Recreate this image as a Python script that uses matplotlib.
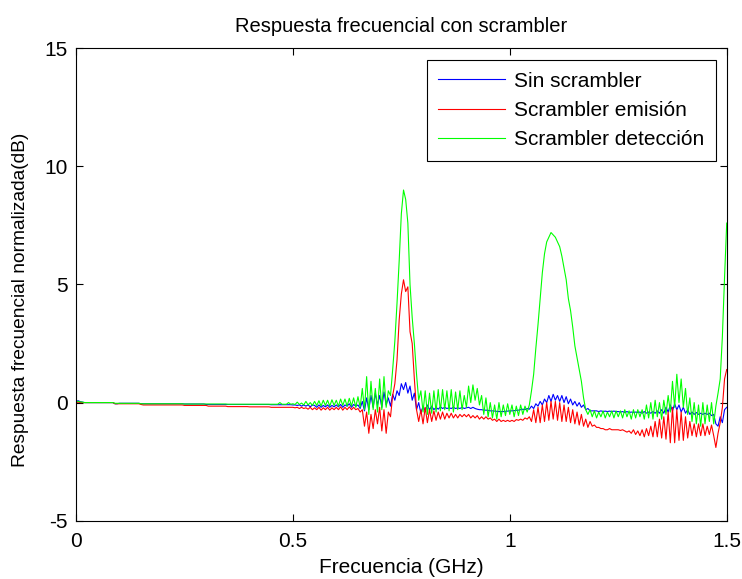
import numpy as np
import matplotlib
matplotlib.use("Agg")
import matplotlib.pyplot as plt

plt.rcParams['font.family'] = ['Liberation Sans', 'DejaVu Sans']
plt.rcParams['axes.unicode_minus'] = False

# frequency grid (GHz), 5 MHz step
freq = np.linspace(0, 1.5, 301)

# normalised response (dB), one row per 50 MHz
sin_scrambler = [
    0.05, 0.08, 0.04, 0.02, 0.0, 0.0, 0.0, 0.0, 0.0, 0.0,
    0.0, 0.0, 0.0, 0.0, 0.0, 0.0, 0.0, 0.0, -0.05, -0.05,
    -0.03, -0.03, -0.03, -0.03, -0.03, -0.03, -0.03, -0.03, -0.03, -0.03,
    -0.05, -0.05, -0.05, -0.05, -0.05, -0.05, -0.05, -0.05, -0.05, -0.05,
    -0.05, -0.05, -0.05, -0.05, -0.05, -0.05, -0.05, -0.05, -0.05, -0.05,
    -0.06, -0.06, -0.06, -0.06, -0.06, -0.06, -0.06, -0.06, -0.06, -0.06,
    -0.08, -0.08, -0.08, -0.08, -0.08, -0.08, -0.08, -0.08, -0.08, -0.08,
    -0.08, -0.08, -0.08, -0.08, -0.08, -0.08, -0.08, -0.08, -0.08, -0.08,
    -0.08, -0.08, -0.08, -0.08, -0.08, -0.08, -0.08, -0.08, -0.08, -0.08,
    -0.09, -0.09, -0.09, -0.09, -0.09, -0.09, -0.09, -0.09, -0.09, -0.09,
    -0.1, -0.1, -0.12, -0.1, -0.15, -0.1, -0.15, -0.1, -0.18, -0.1,
    -0.12, -0.2, -0.1, -0.2, -0.12, -0.18, -0.1, -0.2, -0.12, -0.18,
    -0.1, -0.18, -0.08, -0.2, -0.1, -0.15, -0.05, -0.2, -0.08, -0.15,
    -0.1, -0.25, 0.05, -0.35, 0.2, -0.3, 0.3, -0.2, 0.4, -0.1,
    0.3, -0.2, 0.45, -0.1, 0.2, -0.15, 0.35, 0.1, 0.5, 0.3,
    0.8, 0.55, 0.85, 0.4, 0.7, 0.1, 0.4, -0.3, 0.0, -0.45,
    -0.15, -0.35, -0.1, -0.3, -0.15, -0.3, -0.2, -0.28, -0.18, -0.25,
    -0.2, -0.25, -0.22, -0.25, -0.2, -0.25, -0.22, -0.25, -0.2, -0.25,
    -0.22, -0.2, -0.25, -0.2, -0.25, -0.28, -0.3, -0.3, -0.32, -0.32,
    -0.33, -0.35, -0.35, -0.36, -0.37, -0.38, -0.38, -0.38, -0.37, -0.36,
    -0.35, -0.35, -0.34, -0.33, -0.32, -0.3, -0.28, -0.3, -0.25, -0.28,
    -0.15, -0.25, -0.05, -0.15, 0.05, -0.1, 0.15, 0.0, 0.3, 0.05,
    0.35, 0.1, 0.3, 0.05, 0.3, 0.0, 0.25, -0.05, 0.15, -0.1,
    0.05, -0.15, 0.0, -0.2, -0.1, -0.3, -0.25, -0.35, -0.35, -0.35,
    -0.35, -0.38, -0.35, -0.38, -0.36, -0.38, -0.36, -0.38, -0.36, -0.38,
    -0.38, -0.4, -0.38, -0.42, -0.38, -0.42, -0.4, -0.42, -0.4, -0.42,
    -0.4, -0.45, -0.38, -0.45, -0.4, -0.45, -0.38, -0.45, -0.35, -0.45,
    -0.3, -0.45, -0.2, -0.4, -0.1, -0.35, -0.05, -0.3, -0.1, -0.4,
    -0.2, -0.45, -0.3, -0.5, -0.4, -0.5, -0.42, -0.5, -0.45, -0.5,
    -0.45, -0.5, -0.45, -0.55, -0.5, -0.9, -1.0, -0.6, -0.85, -0.3,
    -0.2,
]

scrambler_emision = [
    0.0, 0.02, 0.0, 0.0, 0.0, 0.0, 0.0, 0.0, 0.0, 0.0,
    0.0, 0.0, 0.0, 0.0, 0.0, 0.0, 0.0, 0.0, -0.05, -0.05,
    -0.05, -0.05, -0.05, -0.05, -0.05, -0.05, -0.05, -0.05, -0.05, -0.05,
    -0.08, -0.1, -0.1, -0.1, -0.1, -0.1, -0.1, -0.1, -0.1, -0.1,
    -0.1, -0.1, -0.1, -0.1, -0.1, -0.1, -0.1, -0.1, -0.1, -0.1,
    -0.12, -0.12, -0.12, -0.12, -0.12, -0.12, -0.12, -0.12, -0.12, -0.12,
    -0.12, -0.15, -0.15, -0.15, -0.15, -0.15, -0.15, -0.15, -0.15, -0.15,
    -0.17, -0.17, -0.17, -0.17, -0.17, -0.17, -0.17, -0.17, -0.17, -0.17,
    -0.18, -0.18, -0.18, -0.18, -0.18, -0.18, -0.18, -0.18, -0.18, -0.18,
    -0.2, -0.2, -0.2, -0.2, -0.2, -0.2, -0.2, -0.2, -0.2, -0.2,
    -0.2, -0.22, -0.2, -0.25, -0.2, -0.25, -0.22, -0.28, -0.2, -0.3,
    -0.22, -0.3, -0.2, -0.32, -0.22, -0.3, -0.2, -0.32, -0.22, -0.3,
    -0.2, -0.3, -0.18, -0.32, -0.2, -0.3, -0.18, -0.3, -0.2, -0.3,
    -0.25, -0.4, -0.3, -1.0, -0.4, -1.3, -0.5, -1.1, -0.3, -0.9,
    -0.2, -1.2, -0.3, -1.3, -0.4, -0.6, 0.3, 0.8, 1.8, 3.5,
    4.6, 5.2, 4.7, 4.9, 3.0, 2.5, 1.0, -0.3, -0.8, -0.3,
    -0.9, -0.2, -0.85, -0.3, -0.8, -0.35, -0.75, -0.4, -0.7, -0.4,
    -0.7, -0.45, -0.65, -0.45, -0.65, -0.5, -0.65, -0.5, -0.6, -0.5,
    -0.6, -0.5, -0.65, -0.55, -0.65, -0.55, -0.7, -0.6, -0.7, -0.6,
    -0.7, -0.65, -0.75, -0.7, -0.8, -0.7, -0.8, -0.75, -0.8, -0.75,
    -0.8, -0.75, -0.8, -0.72, -0.75, -0.7, -0.75, -0.65, -0.7, -0.6,
    -0.8, -0.3, -0.85, -0.2, -0.85, -0.1, -0.8, 0.0, -0.75, 0.05,
    -0.7, 0.05, -0.75, 0.0, -0.8, -0.1, -0.8, -0.2, -0.85, -0.3,
    -0.9, -0.4, -0.95, -0.5, -1.0, -0.7, -1.05, -0.8, -1.0, -0.95,
    -1.05, -1.05, -1.1, -1.1, -1.15, -1.15, -1.1, -1.15, -1.15, -1.15,
    -1.15, -1.18, -1.15, -1.2, -1.25, -1.2, -1.3, -1.15, -1.35, -1.2,
    -1.4, -1.15, -1.45, -1.1, -1.4, -1.0, -1.45, -0.8, -1.45, -0.7,
    -1.5, -0.6, -1.55, -0.4, -1.7, -0.2, -1.7, -0.3, -1.6, -0.4,
    -1.6, -0.6, -1.5, -0.8, -1.4, -0.9, -1.45, -0.9, -1.4, -0.9,
    -1.4, -1.0, -1.35, -0.95, -1.4, -1.9, -1.3, -0.85, -0.2, 1.0,
    1.4,
]

scrambler_deteccion = [
    0.05, 0.05, 0.03, 0.02, 0.0, 0.0, 0.0, 0.0, 0.0, 0.0,
    0.0, 0.0, 0.0, 0.0, 0.0, 0.0, 0.0, 0.0, -0.03, -0.03,
    -0.03, -0.03, -0.03, -0.03, -0.03, -0.03, -0.03, -0.03, -0.03, -0.03,
    -0.05, -0.05, -0.05, -0.05, -0.05, -0.05, -0.05, -0.05, -0.05, -0.05,
    -0.05, -0.05, -0.05, -0.05, -0.05, -0.05, -0.05, -0.05, -0.05, -0.05,
    -0.06, -0.06, -0.06, -0.06, -0.06, -0.06, -0.06, -0.06, -0.06, -0.06,
    -0.06, -0.06, -0.06, -0.06, -0.06, -0.06, -0.06, -0.06, -0.06, -0.06,
    -0.07, -0.07, -0.07, -0.07, -0.07, -0.07, -0.07, -0.07, -0.07, -0.07,
    -0.07, -0.07, -0.07, -0.07, -0.07, -0.07, -0.07, -0.07, -0.07, -0.07,
    -0.07, -0.07, -0.07, -0.07, 0.0, -0.07, -0.07, -0.07, 0.0, -0.07,
    -0.05, -0.08, 0.02, -0.08, -0.02, -0.1, 0.05, -0.1, 0.0, -0.12,
    0.05, -0.12, 0.08, -0.15, 0.1, -0.12, 0.1, -0.15, 0.12, -0.12,
    0.1, -0.15, 0.15, -0.12, 0.15, -0.15, 0.18, -0.15, 0.2, -0.2,
    0.25, -0.2, 0.6, -0.3, 1.1, -0.5, 0.9, -0.3, 0.6, -0.4,
    1.0, -0.3, 1.1, -0.2, 0.5, 0.3, 1.4, 2.6, 4.2, 6.0,
    8.0, 9.0, 8.6, 7.6, 5.0, 3.6, 2.5, 1.2, 0.1, 0.5,
    -0.4, 0.5, -0.5, 0.4, -0.45, 0.5, -0.4, 0.55, -0.35, 0.55,
    -0.3, 0.5, -0.35, 0.55, -0.4, 0.45, -0.3, 0.5, -0.3, 0.3,
    -0.2, 0.7, 0.0, 0.75, 0.1, 0.6, -0.1, 0.3, -0.5, 0.2,
    -0.6, 0.0, -0.65, -0.1, -0.7, 0.0, -0.6, -0.1, -0.55, -0.05,
    -0.5, -0.1, -0.6, -0.15, -0.55, -0.1, -0.5, -0.15, -0.4, -0.1,
    0.5, 1.2, 2.3, 3.3, 4.4, 5.5, 6.3, 6.8, 7.0, 7.2,
    7.1, 7.0, 6.8, 6.6, 6.2, 5.7, 5.2, 4.4, 3.9, 3.2,
    2.4, 1.9, 1.4, 0.9, 0.2, -0.3, -0.5, -0.3, -0.6, -0.35,
    -0.65, -0.4, -0.6, -0.35, -0.65, -0.4, -0.6, -0.35, -0.65, -0.35,
    -0.6, -0.35, -0.65, -0.3, -0.6, -0.35, -0.7, -0.3, -0.65, -0.3,
    -0.6, -0.3, -0.7, -0.1, -0.65, 0.0, -0.7, 0.1, -0.6, 0.0,
    -0.7, 0.1, -0.5, 0.3, -0.4, 0.9, -0.2, 1.2, 0.0, 1.0,
    -0.2, 0.6, -0.5, 0.2, -0.8, 0.0, -0.9, -0.1, -1.0, 0.0,
    -0.9, -0.1, -0.8, 0.0, -0.9, -0.15, 0.4, 1.0, 2.8, 5.3,
    7.6,
]

fig = plt.figure(figsize=(7.42, 5.79), dpi=100)
ax = fig.add_axes([0.1024, 0.1007, 0.877, 0.8159])

ax.plot(freq, sin_scrambler, color=(0, 0, 1), lw=0.8, label='Sin scrambler')
ax.plot(freq, scrambler_emision, color=(1, 0, 0), lw=0.8, label='Scrambler emisión')
ax.plot(freq, scrambler_deteccion, color=(0, 1, 0), lw=0.8, label='Scrambler detección')

ax.set_xlim(0, 1.5)
ax.set_ylim(-5, 15)
ax.set_xticks([0, 0.5, 1, 1.5])
ax.set_xticklabels(['0', '0.5', '1', '1.5'])
ax.set_yticks([-5, 0, 5, 10, 15])
ax.tick_params(direction='in', top=True, right=True, length=5, width=0.8,
               labelsize=15)
ax.tick_params(axis='x', pad=8)
ax.tick_params(axis='y', pad=6)
for s in ax.spines.values():
    s.set_linewidth(0.8)

ax.set_title('Respuesta frecuencial con scrambler', fontsize=14.5, pad=12)
ax.set_xlabel('Frecuencia (GHz)', fontsize=15, labelpad=5)
ax.set_ylabel('Respuesta frecuencial normalizada(dB)', fontsize=13.8)
ax.yaxis.set_label_coords(-0.072, 0.467)

leg = ax.legend(loc='upper right', bbox_to_anchor=(0.9836, 0.975), borderaxespad=0,
                fontsize=15, handlelength=3.2, handletextpad=0.45, fancybox=False,
                framealpha=1, edgecolor='black', labelspacing=0.5, borderpad=0.55)
leg.get_frame().set_linewidth(0.8)

fig.savefig('out.png', dpi=100)
